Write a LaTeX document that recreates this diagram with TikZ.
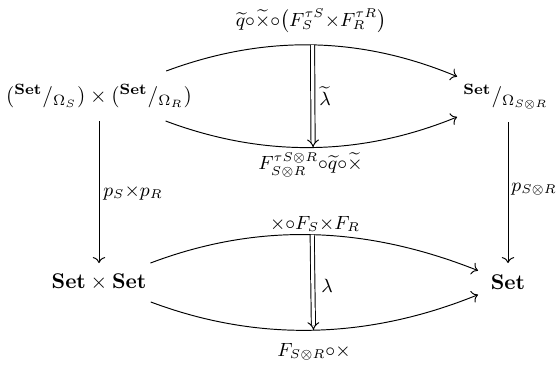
\documentclass[tikz,border=0pt]{standalone}
\usepackage{amsmath,amssymb}
\usetikzlibrary{cd,arrows.meta}
\begin{document}
\begin{tikzpicture}[x=0.47pt,y=-0.47pt,
  obj/.style={inner sep=0pt, outer sep=0pt},
  arr/.style={-{cm to}, line width=0.45pt},
  twocell/.style={double equal sign distance, -{Implies}, line width=0.45pt},
  lab/.style={inner sep=0pt, font=\fontsize{9pt}{11pt}\selectfont}]
\useasboundingbox (0,0) rectangle (556,365);
% objects
\node[obj, minimum height=23.5pt] (A) at (99,96)
  {$({}^{\mathbf{Set}}/_{\Omega_S})\times({}^{\mathbf{Set}}/_{\Omega_R})$};
\node[obj, minimum height=23.5pt, minimum width=46pt] (B) at (506,97)
  {$^{\mathbf{Set}}/_{\Omega_{S\otimes R}}$};
\node[obj, minimum height=18.3pt, inner xsep=2.5pt] (C) at (99,282.5)
  {$\mathbf{Set}\times\mathbf{Set}$};
\node[obj, minimum height=18.3pt, minimum width=28.2pt] (D) at (508,282.5)
  {$\mathbf{Set}$};
% vertical arrows
\draw[arr] (A) -- (C);
\draw[arr] (D |- B.south) -- (D);
% top curves
\draw[arr] (A) .. controls (265,34.3) and (360.7,36.3) .. (B) coordinate[pos=0.5] (tu);
\draw[arr] (A) .. controls (265,158.3) and (362.3,155.7) .. (B) coordinate[pos=0.5] (tl);
% bottom curves
\draw[arr] (C) .. controls (258,222.3) and (365,225.7) .. (D) coordinate[pos=0.5] (bu);
\draw[arr] (C) .. controls (258,342.3) and (368.3,339.3) .. (D) coordinate[pos=0.5] (bl);
% 2-cells
\draw[twocell] (tu) -- (tl);
\draw[twocell] (bu) -- (bl);
% labels
\node[lab] (l1) at (311,21) {$\widetilde{q}{\circ}\widetilde{\times}{\circ}\bigl(F_S^{\tau S}{\times}F_R^{\tau R}\bigr)$};
\node[lab] (l2) at (310.5,165) {$F_{S\otimes R}^{\tau S\otimes R}{\circ}\widetilde{q}{\circ}\widetilde{\times}$};
\node[lab] (l3) at (325,96) {$\widetilde{\lambda}$};
\node[lab] (l4) at (315,224) {${\times}{\circ}F_S{\times}F_R$};
\node[lab] (l5) at (314,352) {$F_{S\otimes R}{\circ}{\times}$};
\node[lab] (l6) at (327,286) {$\lambda$};
\node[lab] (l7) at (133,193) {$p_S{\times}p_R$};
\node[lab, anchor=west] (l8) at (511,189) {$p_{S\otimes R}$};
\end{tikzpicture}
\end{document}
